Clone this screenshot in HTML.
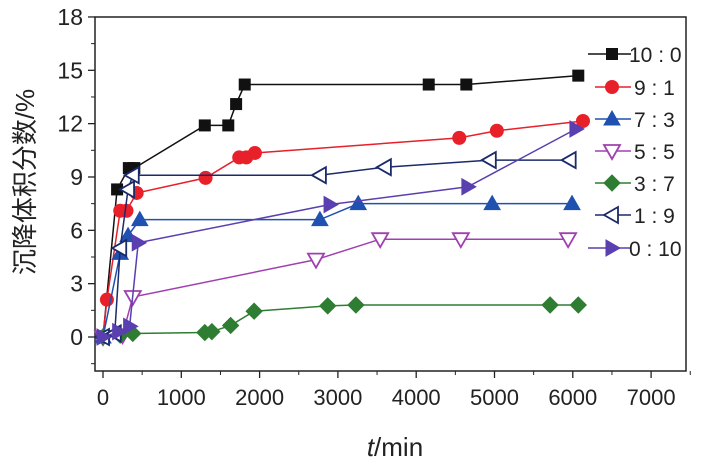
<!DOCTYPE html>
<html><head><meta charset="utf-8"><style>
body{margin:0;background:#fff;width:703px;height:466px;overflow:hidden}
text{font-family:"Liberation Sans","Noto Sans CJK SC",sans-serif}
</style></head><body>
<svg id="c" width="703" height="466" xmlns="http://www.w3.org/2000/svg"></svg>
<script>
const seriesNames=["10 : 0","9 : 1","7 : 3","5 : 5","3 : 7","1 : 9","0 : 10"];
const s1t=[0,180,330,400,1300,1600,1700,1810,4160,4640,6070];
const s1v=[0,8.3,9.5,9.5,11.9,11.9,13.1,14.2,14.2,14.2,14.7];
const s2t=[0,50,220,300,430,1310,1740,1830,1940,4550,5030,6130];
const s2v=[0,2.1,7.1,7.1,8.1,8.95,10.1,10.1,10.35,11.2,11.6,12.15];
const s3t=[0,220,320,470,2770,3260,4970,5990];
const s3v=[0,4.7,5.7,6.6,6.6,7.5,7.5,7.5];
const s4t=[0,250,380,2720,3540,4570,5940];
const s4v=[0,0.1,2.25,4.35,5.5,5.5,5.5];
const s5t=[0,220,380,1300,1390,1630,1930,2870,3230,5710,6070];
const s5v=[0,0.1,0.2,0.25,0.3,0.65,1.45,1.75,1.8,1.8,1.8];
const s6t=[0,150,220,320,380,2770,3600,4940,5960];
const s6v=[0,0.2,5.0,8.3,9.1,9.1,9.55,9.95,9.95];
const s7t=[0,200,340,450,2900,4660,6040];
const s7v=[0,0.3,0.6,5.3,7.45,8.45,11.7];
const xTicks=[0,1000,2000,3000,4000,5000,6000,7000];
const yTicks=[0,3,6,9,12,15,18];
const colors=["#111","#e8202a","#2050b0","#a040b0","#2e7d32","#1a2a6a","#5a3fb0"];
const markers=["square","circle","tri","tridown","diamond","trileft","triright"];
const T=[s1t,s2t,s3t,s4t,s5t,s6t,s7t],V=[s1v,s2v,s3v,s4v,s5v,s6v,s7v];
const X=t=>103+t*0.0783, Y=v=>337-v*17.78;
const svg=document.getElementById('c');const NS="http://www.w3.org/2000/svg";
function el(tag,a,p){const e=document.createElementNS(NS,tag);for(const k in a)e.setAttribute(k,a[k]);(p||svg).appendChild(e);return e;}
const fr=el('rect',{x:95,y:17,width:591,height:354,fill:'none',stroke:'#222','stroke-width':1.5});


xTicks.forEach((t,i)=>{el('line',{x1:X(t),x2:X(t),y1:371,y2:378,stroke:'#222','stroke-width':1.3});
 el('line',{x1:X(t+500),x2:X(t+500),y1:371,y2:375,stroke:'#222'});
 const tx=el('text',{x:X(t),y:405,'font-size':22,'text-anchor':'middle',fill:'#222'});tx.textContent=t;
 
 });
yTicks.forEach(v=>{el('line',{x1:88,x2:95,y1:Y(v),y2:Y(v),stroke:'#222','stroke-width':1.3});
 el('line',{x1:91,x2:95,y1:Y(v-1.5),y2:Y(v-1.5),stroke:'#222'});
 const tx=el('text',{x:83,y:Y(v)+8,'font-size':23,'text-anchor':'end',fill:'#222'});tx.textContent=v;
 
 });
const yt=el('text',{x:0,y:0,'font-size':26,'text-anchor':'middle',fill:'#222',transform:'translate(34,182) rotate(-90)'});yt.textContent='沉降体积分数/%';


const xt=el('text',{x:395,y:456,'font-size':26,'text-anchor':'middle',fill:'#222'});xt.innerHTML='<tspan font-style="italic">t</tspan>/min';


function marker(m,x,y,c,g){let a;
 if(m=='square')return el('rect',{x:x-6,y:y-6,width:12,height:12,fill:c},g);
 if(m=='circle')return el('circle',{cx:x,cy:y,r:7,fill:c},g);
 if(m=='diamond')a=[[x,y-8],[x+8,y],[x,y+8],[x-8,y]];
 if(m=='tri')a=[[x,y-8],[x+8,y+6],[x-8,y+6]];
 if(m=='tridown')a=[[x-8,y-6],[x+8,y-6],[x,y+8]];
 if(m=='trileft')a=[[x-8,y],[x+6,y-8],[x+6,y+8]];
 if(m=='triright')a=[[x+8,y],[x-6,y-8],[x-6,y+8]];
 const open=(m=='tridown'||m=='trileft');
 return el('polygon',{points:a.map(p=>p.join(',')).join(' '),fill:open?'#fff':c,stroke:c,'stroke-width':open?1.8:1},g);}
const legY=[54,87,119,151,183,215,248];
T.forEach((ts,i)=>{const g=el('g',{});
 
 
 el('polyline',{points:ts.map((t,j)=>X(t)+','+Y(V[i][j])).join(' '),fill:'none',stroke:colors[i],'stroke-width':1.5},g);
 ts.forEach((t,j)=>{const m=marker(markers[i],X(t),Y(V[i][j]),colors[i],g);
  
  });
 const lg=el('g',{});
 
 
 const lx=i==0||i==6?588:595;
 el('line',{x1:lx,x2:631,y1:legY[i],y2:legY[i],stroke:colors[i],'stroke-width':1.5},lg);
 marker(markers[i],612,legY[i],colors[i],lg);
 const tx=el('text',{x:i==0||i==6?629:634,y:legY[i]+8,'font-size':21,fill:'#222'},lg);tx.textContent=seriesNames[i];});
</script>
</body></html>
